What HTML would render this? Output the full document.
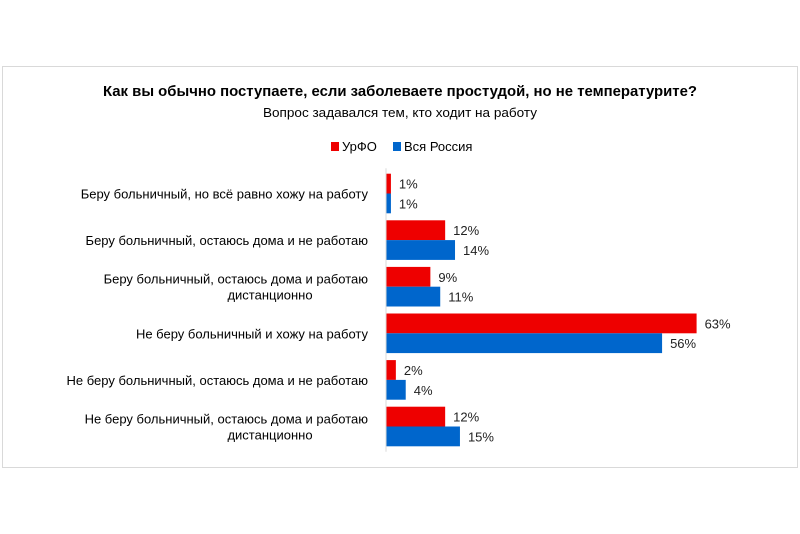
<!DOCTYPE html>
<html><head><meta charset="utf-8"><style>
body{margin:0;background:#fff;}
svg{display:block;font-family:"Liberation Sans","DejaVu Sans",sans-serif;}
</style></head><body>
<svg id="chart" width="800" height="534">
<rect x="2.5" y="66.5" width="795" height="401" fill="#fff" stroke="#d9d9d9"/>
<text x="400" y="96" text-anchor="middle" font-size="15" font-weight="bold" fill="#000" textLength="594" lengthAdjust="spacingAndGlyphs">Как вы обычно поступаете, если заболеваете простудой, но не температурите?</text>
<text x="400" y="117" text-anchor="middle" font-size="13" fill="#000" textLength="274" lengthAdjust="spacingAndGlyphs">Вопрос задавался тем, кто ходит на работу</text>
<g>
<rect x="331" y="142" width="8" height="9" fill="#ee0000"/>
<text x="342" y="151" font-size="13">УрФО</text>
<rect x="393" y="142" width="8" height="9" fill="#0066cc"/>
<text x="404" y="151" font-size="13">Вся Россия</text>
</g>
<g id="plot"></g>
</svg>
<script>
const categories = [
 ["Беру больничный, но всё равно хожу на работу"],
 ["Беру больничный, остаюсь дома и не работаю"],
 ["Беру больничный, остаюсь дома и работаю","дистанционно"],
 ["Не беру больничный и хожу на работу"],
 ["Не беру больничный, остаюсь дома и не работаю"],
 ["Не беру больничный, остаюсь дома и работаю","дистанционно"]
];
const urfo = [1, 12, 9, 63, 2, 12];
const russia = [1, 14, 11, 56, 4, 15];

const ns = "http://www.w3.org/2000/svg";
const plot = document.getElementById('plot');
const x0 = 386, pxPer = 4.93, yTop = 170.2, pitch = 46.6, barH = 19.8;
const xs = v => x0 + v * pxPer;
const yc = i => yTop + pitch * (i + 0.5);
function mk(tag, attrs){const e=document.createElementNS(ns,tag);for(const k in attrs)e.setAttribute(k,attrs[k]);plot.appendChild(e);return e;}
categories.forEach((lines, i) => {
  const c = yc(i);
  const lab = mk('text', {x: 368, 'text-anchor':'end','font-size':13, fill:'#000'});
  
  
  lines.forEach((ln, j) => {
    const t = document.createElementNS(ns,'tspan');
    t.setAttribute('x', lines.length > 1 ? (j === 0 ? 368 : 270) : 368);
    t.setAttribute('text-anchor', lines.length > 1 && j === 1 ? 'middle' : 'end');
    t.setAttribute('y', c + 5 + (lines.length > 1 ? (j === 0 ? -8 : 8) : 0));
    t.textContent = ln; lab.appendChild(t);
  });
  [[urfo, '#ee0000', -barH, 'urfo'], [russia, '#0066cc', 0, 'russia']].forEach(([arr, col, off, nm]) => {
    const r = mk('rect', {x: x0, y: c + off, width: xs(arr[i]) - x0, height: barH, fill: col});
    
    
    const t = mk('text', {x: xs(arr[i]) + 8, y: c + off + barH/2 + 5, 'font-size': 13, fill: '#222'});
    
    
    t.textContent = arr[i] + '%';
  });
});
const ax = mk('line', {x1: x0, x2: x0, y1: yTop - 2, y2: yTop + pitch*6 + 2, stroke: '#d9d9d9'});


</script>
</body></html>
